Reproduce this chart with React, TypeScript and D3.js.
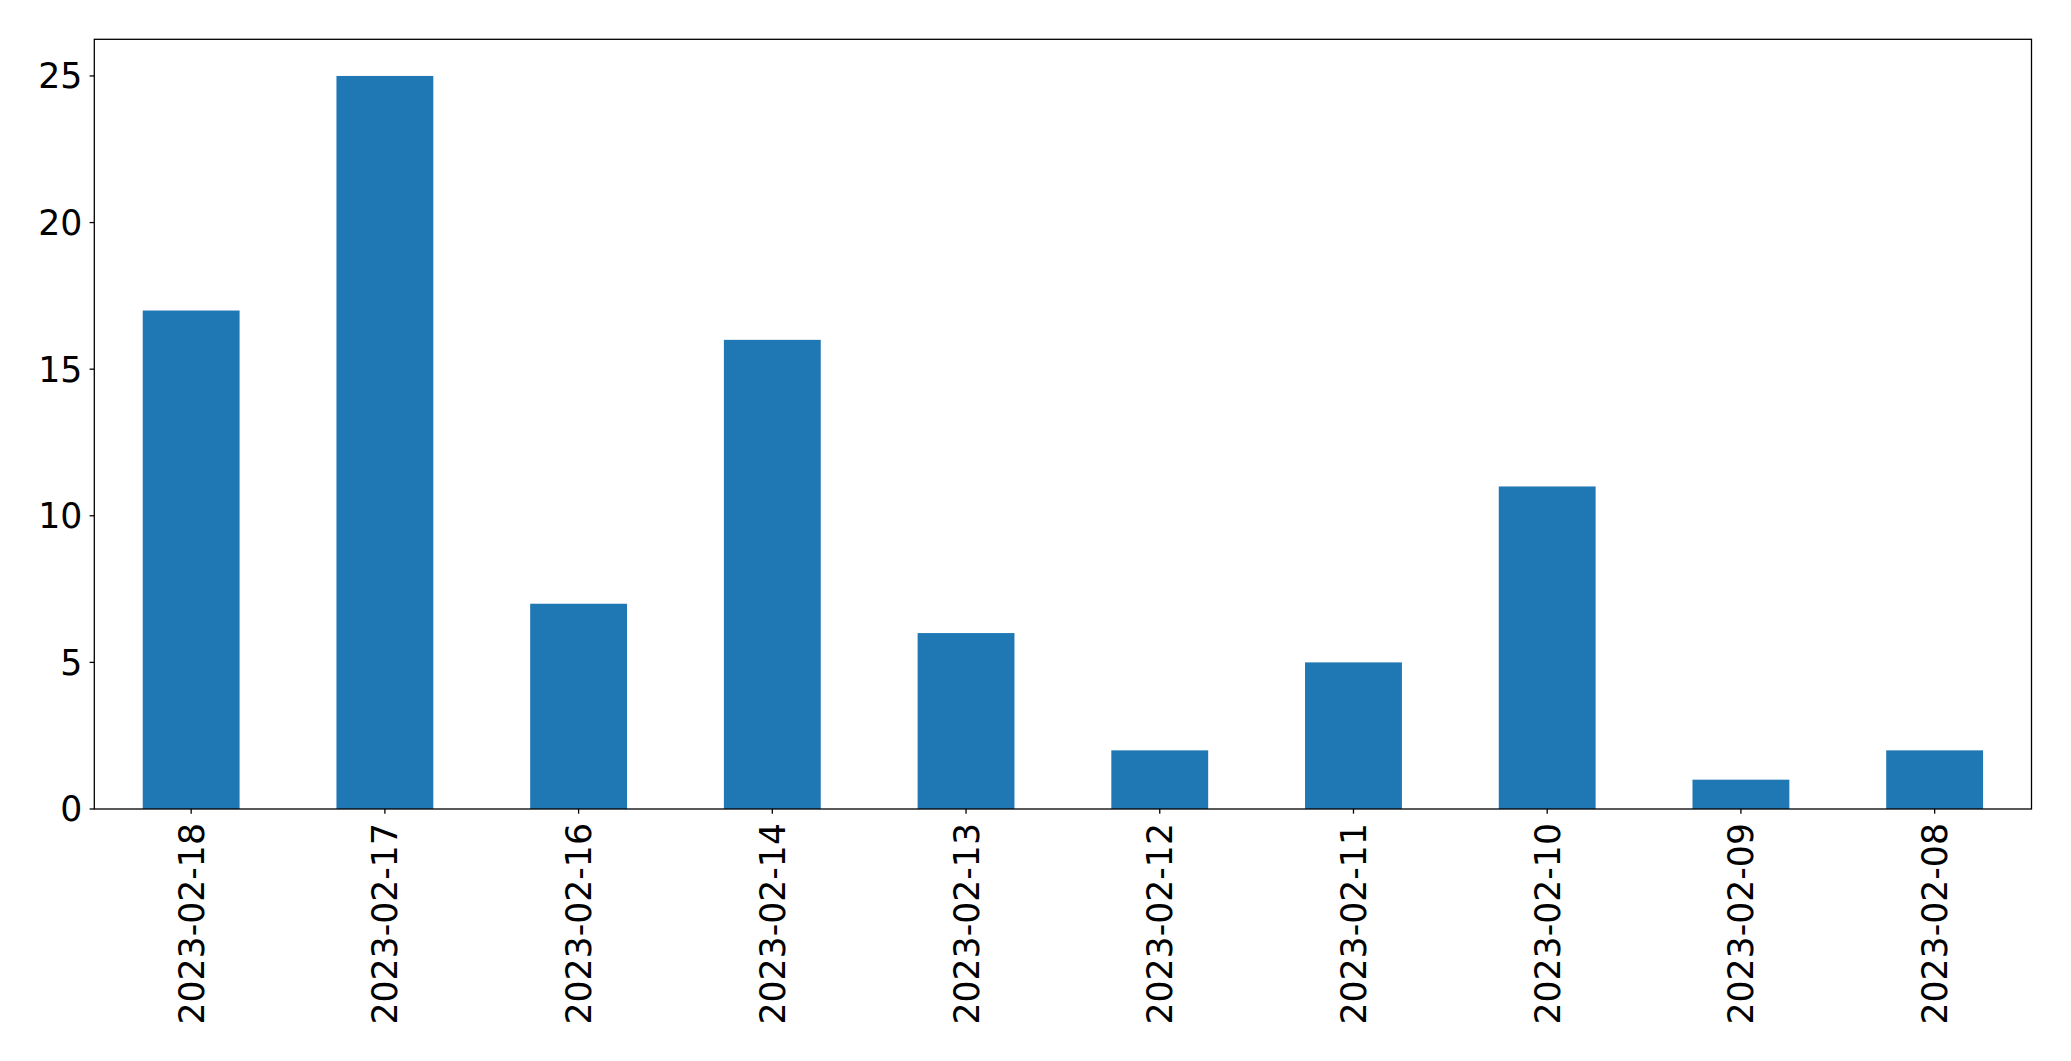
import React from "react";
import * as d3 from "d3";

const categories = ["2023-02-18", "2023-02-17", "2023-02-16", "2023-02-14", "2023-02-13", "2023-02-12", "2023-02-11", "2023-02-10", "2023-02-09", "2023-02-08"];
const values = [17, 25, 7, 16, 6, 2, 5, 11, 1, 2];
const yTicks = [0, 5, 10, 15, 20, 25];

const W = 2071;
const H = 1061;
const M = { left: 94.3, right: 2031.5, top: 39.3, bottom: 809 };
const FONT = "DejaVu Sans";
const FS = 34.7;

export default function App() {
  const x = d3.scaleBand<string>().domain(categories).range([M.left, M.right]).paddingInner(0.5).paddingOuter(0.25);
  const y = d3.scaleLinear().domain([0, 26.25]).range([M.bottom, M.top]);
  return (
    <svg width={W} height={H} style={{ position: "absolute", left: 0, top: 0 }}>
      <rect x={0} y={0} width={W} height={H} fill="#fff" />
      {categories.map((c, i) => (
        <rect key={c} x={x(c)} y={y(values[i])} width={x.bandwidth()} height={y(0) - y(values[i])} fill="#1f77b4" />
      ))}
      <rect x={M.left} y={M.top} width={M.right - M.left} height={M.bottom - M.top} fill="none" stroke="#000" strokeWidth={1.3} />
      {yTicks.map((t) => (
        <g key={t}>
          <line x1={M.left - 4.7} x2={M.left} y1={y(t)} y2={y(t)} stroke="#000" strokeWidth={1.3} />
          <text x={M.left - 12} y={y(t)} dy="0.36em" textAnchor="end" fontFamily={FONT} fontSize={FS} fill="#000">{t}</text>
        </g>
      ))}
      {categories.map((c) => {
        const cx = (x(c) as number) + x.bandwidth() / 2;
        return (
          <g key={c}>
            <line x1={cx} x2={cx} y1={M.bottom} y2={M.bottom + 4.7} stroke="#000" strokeWidth={1.3} />
            <text transform={`translate(${cx},${M.bottom + 14}) rotate(-90)`} dy="0.36em" textAnchor="end" fontFamily={FONT} fontSize={FS} fill="#000">{c}</text>
          </g>
        );
      })}
    </svg>
  );
}
